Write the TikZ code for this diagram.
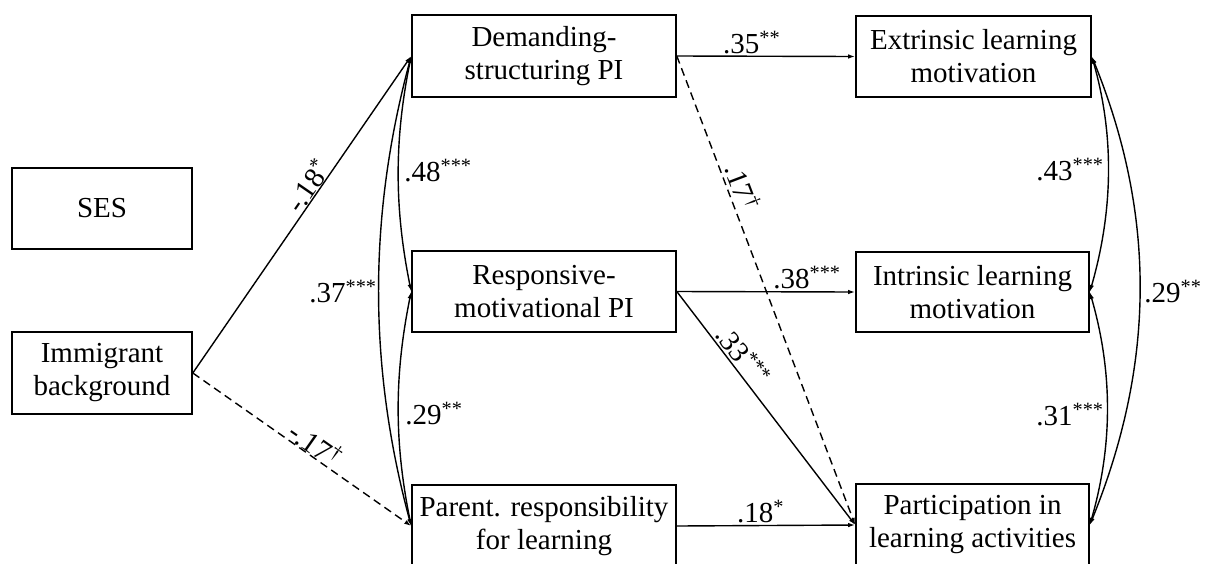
\documentclass[tikz,border=0pt]{standalone}
\usepackage{fontspec}
\setmainfont{Liberation Serif}
\usetikzlibrary{arrows.meta}
\newcommand\sig[1]{\textsuperscript{#1}}
\begin{document}
\begin{tikzpicture}[x=1pt,y=-1pt,
  box/.style={draw, line width=1.6pt, align=center, inner sep=0pt, font=\fontsize{29}{33}\selectfont},
  lab/.style={font=\fontsize{29}{33}\selectfont, inner sep=1pt},
  arr/.style={line width=1.4pt, -{Latex[length=7pt,width=4.5pt]}},
  darr/.style={arr, dash pattern=on 8pt off 5pt},
  cov/.style={line width=1.4pt, {Latex[length=7pt,width=4.5pt]}-{Latex[length=7pt,width=4.5pt]}}]
\useasboundingbox (0,0) rectangle (1206,563);
\clip (0,0) rectangle (1206,563);
% boxes
\node[box, minimum width=180pt, minimum height=81pt] (ses) at (102,208.5) {SES};
\node[box, minimum width=180pt, minimum height=82pt] (imm) at (102,373) {Immigrant\\background};
\node[box, minimum width=264pt, minimum height=82pt] (dem) at (544,56) {Demanding-\\structuring PI};
\node[box, minimum width=264pt, minimum height=81pt] (res) at (544,291.5) {Responsive-\\motivational PI};
\node[box, minimum width=264pt, minimum height=82pt] (par) at (544,526) {Parent. responsibility\\for learning};
\node[box, minimum width=235pt, minimum height=81pt] (ext) at (973.5,56.5) {Extrinsic learning\\motivation};
\node[box, minimum width=233pt, minimum height=80pt] (int) at (972.5,292) {Intrinsic learning\\motivation};
\node[box, minimum width=233pt, minimum height=82pt] (part) at (972.5,525) {Participation in\\learning activities};
% paths
\draw[arr] (imm.east) -- node[lab, sloped, above, pos=0.57, inner sep=0pt] {-.18\sig{*}} (dem.west);
\draw[darr] (imm.east) -- node[lab, sloped, above, pos=0.53, inner sep=0pt] {-.17\sig{\textdagger}} (par.west);
\draw[arr] (dem.east) -- node[lab, above, pos=0.42, inner sep=2pt] {.35\sig{**}} (ext.west);
\draw[arr] (res.east) -- node[lab, above, pos=0.73, inner sep=2pt] {.38\sig{***}} (int.west);
\draw[arr] (par.east) -- node[lab, above, pos=0.47, inner sep=2pt] {.18\sig{*}} (part.west);
\draw[darr] (dem.east) -- node[lab, sloped, above, pos=0.29, inner sep=3pt] {.17\sig{\textdagger}} (part.west);
\draw[arr] (res.east) -- node[lab, sloped, above, pos=0.31, inner sep=2pt] {.33\sig{***}} (part.west);
% covariances left
\draw[cov] (dem.west) .. controls +(-17,84) and +(-17,-84) .. (res.west);
\draw[cov] (res.west) .. controls +(-17,84) and +(-17,-84) .. (par.west);
\draw[cov] (dem.west) .. controls +(-43,160) and +(-43,-160) .. (par.west);
% covariances right
\draw[cov] (ext.east) .. controls +(23,80) and +(23,-80) .. (int.east);
\draw[cov] (int.east) .. controls +(23,80) and +(23,-80) .. (part.east);
\draw[cov] (ext.east) .. controls +(65,160) and +(65,-160) .. (part.east);
% covariance labels
\node[lab] (l48) at (438,171) {.48\sig{***}};
\node[lab] (l29a) at (434,414) {.29\sig{**}};
\node[lab] (l37) at (343,292) {.37\sig{***}};
\node[lab] (l43) at (1070,170) {.43\sig{***}};
\node[lab] (l31) at (1070,415) {.31\sig{***}};
\node[lab] (l29b) at (1173,292) {.29\sig{**}};
\end{tikzpicture}
\end{document}
